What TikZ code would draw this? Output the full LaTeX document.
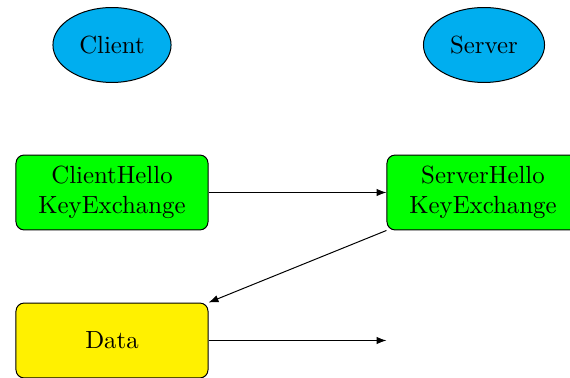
\documentclass[tikz,border=0pt]{standalone}
\usetikzlibrary{shapes.geometric,arrows.meta}
\definecolor{partyblue}{RGB}{0,174,239}
\definecolor{msggreen}{RGB}{0,255,0}
\definecolor{datayellow}{RGB}{255,241,0}
\begin{document}
\begin{tikzpicture}[x=0.403pt,y=-0.403pt,
  party/.style={ellipse,draw,fill=partyblue,minimum width=47.6pt,minimum height=30.2pt,inner sep=0pt},
  msg/.style={rectangle,rounded corners=3.3pt,draw,fill=msggreen,minimum width=77.4pt,minimum height=30.2pt,align=center,inner sep=0pt},
  databox/.style={msg,fill=datayellow},
  flow/.style={-{Latex[length=4pt,width=3pt]}}]
  \useasboundingbox (0,0) rectangle (570,378);
  \node[party] (client) at (112,45) {Client};
  \node[party,minimum width=48.8pt] (server) at (484,45) {Server};
  \node[msg] (ch) at (112,192.5) {ClientHello\\KeyExchange};
  \node[msg] (sh) at (483,192.5) {ServerHello\\KeyExchange};
  \node[databox] (data) at (112,340.5) {Data};
  \coordinate (dataend) at (sh.west |- data.east);
  \draw[flow] (ch.east) -- (sh.west);
  \draw[flow] (sh.south west) -- (data.north east);
  \draw[flow] (data.east) -- (dataend);
\end{tikzpicture}
\end{document}
